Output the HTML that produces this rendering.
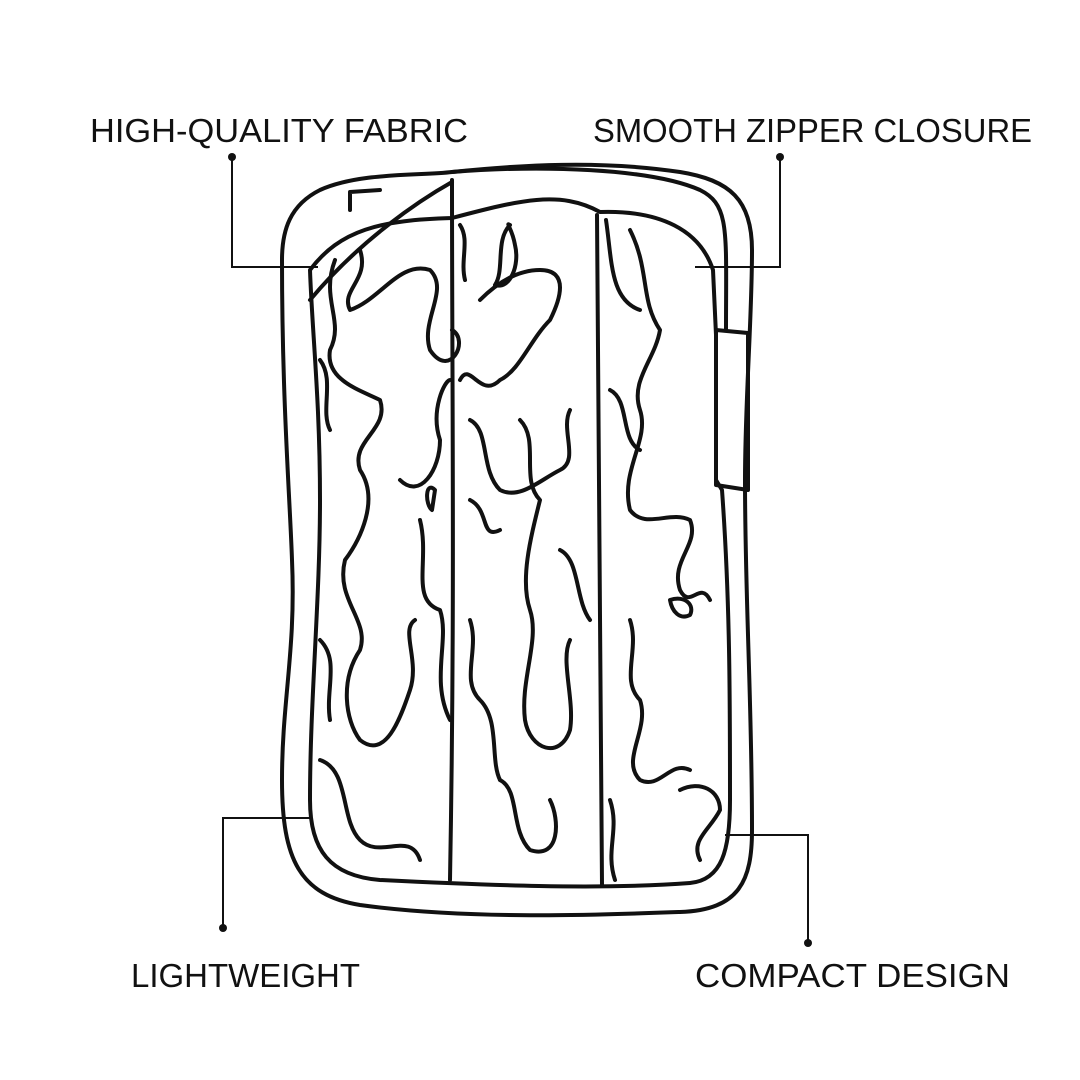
<!DOCTYPE html>
<html><head><meta charset="utf-8"><style>
html,body{margin:0;padding:0;background:#fff;}
svg{display:block}
text{font-family:"Liberation Sans",sans-serif;font-size:33px;fill:#111}
</style></head><body>
<svg width="1080" height="1080" viewBox="0 0 1080 1080" xmlns="http://www.w3.org/2000/svg">
<rect width="1080" height="1080" fill="#fff"/>
<text x="90" y="142" textLength="378" lengthAdjust="spacingAndGlyphs">HIGH-QUALITY FABRIC</text>
<text x="593" y="142" textLength="439" lengthAdjust="spacingAndGlyphs">SMOOTH ZIPPER CLOSURE</text>
<text x="131" y="987" textLength="229" lengthAdjust="spacingAndGlyphs">LIGHTWEIGHT</text>
<text x="695" y="987" textLength="315" lengthAdjust="spacingAndGlyphs">COMPACT DESIGN</text>
<g stroke="#111" stroke-width="2" fill="none">
<path d="M232 157 V267 H318"/>
<path d="M780 157 V267 H695"/>
<path d="M223 928 V818 H310"/>
<path d="M808 943 V835 H725"/>
</g>
<g fill="#111">
<circle cx="232" cy="157" r="4"/><circle cx="780" cy="157" r="4"/>
<circle cx="223" cy="928" r="4"/><circle cx="808" cy="943" r="4"/>
</g>
<g stroke="#111" stroke-width="4" fill="none" stroke-linecap="round" stroke-linejoin="round">
<path d="M452 172 C420 176 360 172 320 190 C290 205 282 230 282 260 C282 400 290 500 292 560 C296 650 282 700 282 780 C282 860 300 895 360 905 C470 920 600 915 680 912 C740 910 752 880 752 830 C752 700 745 600 745 480 C745 400 752 320 752 250 C752 200 730 180 680 172 C600 160 520 165 452 172 Z"/>
<path d="M452 172 C540 165 650 168 700 190 C730 205 726 230 726 330"/>
<path d="M310 270 C340 230 380 220 452 218 C520 200 560 190 600 212 C660 210 700 230 713 270 L716 335 L716 480 L722 490 C730 600 730 700 730 800 C730 850 722 880 690 883 C600 890 480 885 380 880 C330 876 310 850 310 800 C310 700 320 600 320 500 C320 400 312 330 310 270 Z"/>
<path d="M716 330 L748 333 L748 490 L716 485 Z"/>
<path d="M310 300 C360 240 420 200 452 182"/>
<path d="M350 210 L350 192 L380 190"/>
<path d="M452 180 C452 400 455 600 450 880"/>
<path d="M597 215 C600 400 598 600 602 885"/>
<path d="M360 250 C370 280 340 290 350 310 C380 300 400 260 430 270 C450 290 420 320 430 350 C450 380 470 340 452 330"/>
<path d="M335 260 C320 300 345 320 330 350 C325 380 360 390 380 400 C390 430 350 440 360 470 C380 500 360 540 345 560 C335 600 370 620 360 650 C340 680 345 720 360 740 C385 760 400 720 410 690 C420 660 400 630 415 620"/>
<path d="M320 360 C335 380 320 410 330 430"/>
<path d="M320 640 C340 660 325 690 330 720"/>
<path d="M320 760 C350 770 340 820 360 840 C380 860 410 830 420 860"/>
<path d="M400 480 C420 500 440 470 440 440 C430 410 445 380 450 380"/>
<path d="M420 520 C430 560 410 600 440 610 C450 640 430 680 450 720"/>
<path d="M435 490 C425 480 425 505 432 510 Z"/>
<path d="M460 225 C470 240 460 260 465 280"/>
<path d="M510 225 C495 240 505 270 495 285 C510 290 520 265 515 245 C512 228 505 222 510 225 Z"/>
<path d="M480 300 C500 280 520 270 540 270 C570 270 560 300 550 320 C530 340 520 370 500 380 C480 400 470 360 460 380"/>
<path d="M470 420 C490 430 480 470 500 490 C520 500 540 480 560 470 C580 460 560 430 570 410"/>
<path d="M520 420 C540 440 520 480 540 500 C530 540 520 580 530 610 C540 640 520 680 525 720 C530 750 560 760 570 730 C575 700 560 660 570 640"/>
<path d="M470 500 C490 510 480 540 500 530"/>
<path d="M470 620 C480 650 460 680 480 700 C500 720 490 760 500 780"/>
<path d="M500 780 C520 790 510 830 530 850 C560 860 560 820 550 800"/>
<path d="M560 550 C580 560 575 600 590 620"/>
<path d="M630 230 C650 270 640 300 660 330 C655 360 630 380 640 410 C650 440 620 470 630 510 C645 530 670 510 690 520 C700 545 670 560 680 590 C690 610 700 580 710 600"/>
<path d="M606 220 C612 260 610 300 640 310"/>
<path d="M610 390 C630 400 620 440 640 450"/>
<path d="M630 620 C640 650 620 680 640 700 C650 730 620 760 640 780 C660 790 670 760 690 770"/>
<path d="M680 790 C700 780 720 790 720 810 C710 830 690 840 700 860"/>
<path d="M670 600 C685 595 695 605 690 615 C680 620 672 612 670 600 Z"/>
<path d="M610 800 C620 830 605 850 615 880"/>
</g>
</svg>
</body></html>
